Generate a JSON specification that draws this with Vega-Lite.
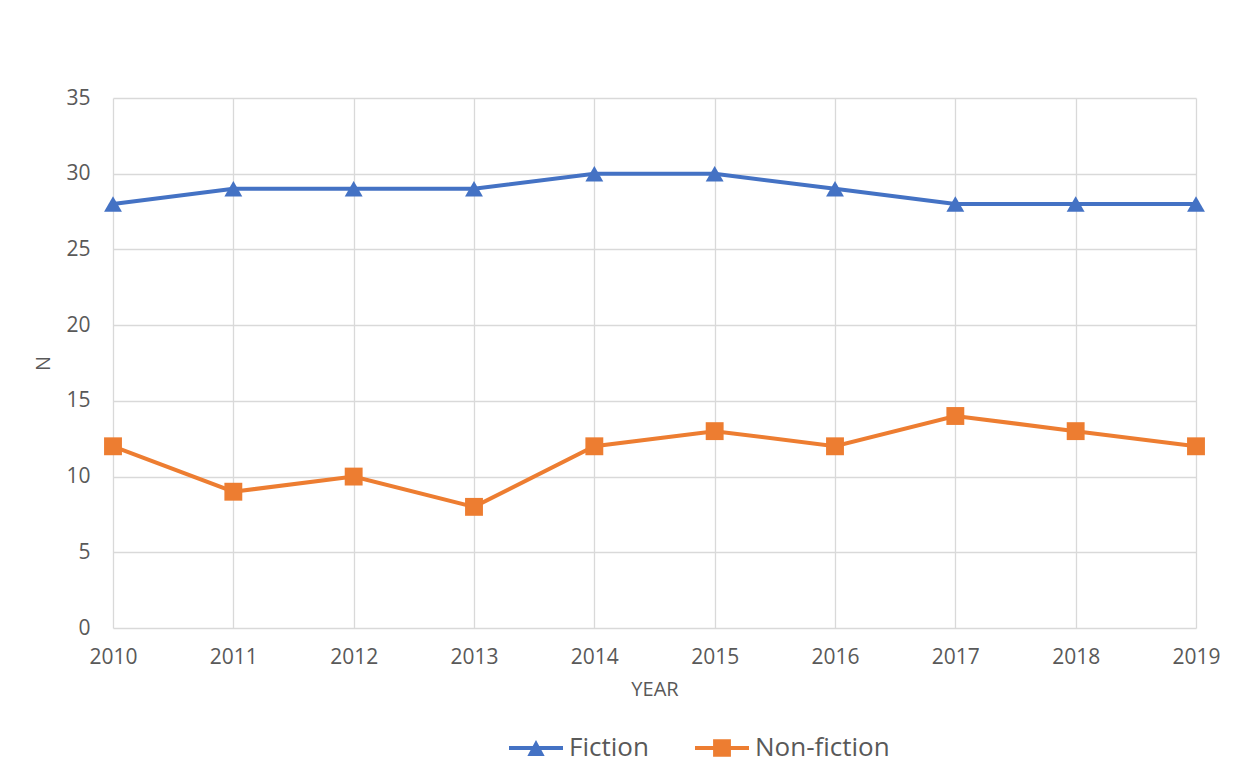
{
  "$schema": "https://vega.github.io/schema/vega-lite/v6.json",
  "width": 1083,
  "height": 530,
  "autosize": {"type": "none"},
  "padding": {"left": 113, "top": 98, "right": 57, "bottom": 150},
  "background": "#ffffff",
  "config": {
    "font": "Open Sans",
    "view": {"stroke": null},
    "axis": {
      "labelFont": "Open Sans",
      "titleFont": "Open Sans",
      "labelColor": "#595959",
      "titleColor": "#595959",
      "labelFontSize": 21,
      "titleFontSize": 20,
      "titleFontWeight": "normal",
      "gridColor": "#d9d9d9",
      "gridWidth": 1.3,
      "domain": false,
      "ticks": false
    }
  },
  "data": {
    "values": [
      {"year": 2010, "series": "Fiction", "n": 28},
      {"year": 2011, "series": "Fiction", "n": 29},
      {"year": 2012, "series": "Fiction", "n": 29},
      {"year": 2013, "series": "Fiction", "n": 29},
      {"year": 2014, "series": "Fiction", "n": 30},
      {"year": 2015, "series": "Fiction", "n": 30},
      {"year": 2016, "series": "Fiction", "n": 29},
      {"year": 2017, "series": "Fiction", "n": 28},
      {"year": 2018, "series": "Fiction", "n": 28},
      {"year": 2019, "series": "Fiction", "n": 28},
      {"year": 2010, "series": "Non-fiction", "n": 12},
      {"year": 2011, "series": "Non-fiction", "n": 9},
      {"year": 2012, "series": "Non-fiction", "n": 10},
      {"year": 2013, "series": "Non-fiction", "n": 8},
      {"year": 2014, "series": "Non-fiction", "n": 12},
      {"year": 2015, "series": "Non-fiction", "n": 13},
      {"year": 2016, "series": "Non-fiction", "n": 12},
      {"year": 2017, "series": "Non-fiction", "n": 14},
      {"year": 2018, "series": "Non-fiction", "n": 13},
      {"year": 2019, "series": "Non-fiction", "n": 12}
    ]
  },
  "encoding": {
    "x": {
      "field": "year",
      "type": "quantitative",
      "scale": {"domain": [2010, 2019], "nice": false, "zero": false},
      "axis": {
        "title": "YEAR",
        "values": [2010, 2011, 2012, 2013, 2014, 2015, 2016, 2017, 2018, 2019],
        "format": "d",
        "labelPadding": 18,
        "titlePadding": 12,
        "labelFlush": false
      }
    },
    "y": {
      "field": "n",
      "type": "quantitative",
      "scale": {"domain": [0, 35], "nice": false},
      "axis": {
        "title": "N",
        "values": [0, 5, 10, 15, 20, 25, 30, 35],
        "labelPadding": 23,
        "titlePadding": 12
      }
    }
  },
  "layer": [
    {
      "mark": {"type": "line", "strokeWidth": 4},
      "encoding": {
        "color": {
          "field": "series",
          "type": "nominal",
          "scale": {"domain": ["Fiction", "Non-fiction"], "range": ["#4472C4", "#ED7D31"]},
          "legend": null
        }
      }
    },
    {
      "mark": {"type": "point", "filled": true, "opacity": 1, "size": 320},
      "encoding": {
        "color": {
          "field": "series",
          "type": "nominal",
          "scale": {"domain": ["Fiction", "Non-fiction"], "range": ["#4472C4", "#ED7D31"]},
          "legend": null
        },
        "shape": {
          "field": "series",
          "type": "nominal",
          "scale": {"domain": ["Fiction", "Non-fiction"], "range": ["triangle-up", "square"]},
          "legend": null
        }
      }
    },
    {
      "mark": {"type": "point", "filled": true, "opacity": 0, "size": 10},
      "encoding": {
        "color": {
          "field": "series",
          "type": "nominal",
          "scale": {"domain": ["Fiction", "Non-fiction"], "range": ["#4472C4", "#ED7D31"]},
          "legend": {
            "title": null,
            "orient": "none",
            "direction": "horizontal",
            "legendX": 396,
            "legendY": 623,
            "padding": 0,
            "symbolSize": 2916,
            "symbolOpacity": 1,
            "symbolStrokeWidth": 0,
            "labelFont": "Open Sans",
            "labelFontSize": 26,
            "labelColor": "#595959",
            "labelOffset": 6,
            "columnPadding": 46,
            "labelLimit": 400
          }
        },
        "shape": {
          "field": "series",
          "type": "nominal",
          "scale": {
            "domain": ["Fiction", "Non-fiction"],
            "range": [
              "M-1,-0.075H1V0.075H-1Z M-0.32,0.3L0,-0.3L0.32,0.3Z",
              "M-1,-0.075H1V0.075H-1Z M-0.33,-0.32H0.33V0.32H-0.33Z"
            ]
          },
          "legend": {
            "title": null,
            "orient": "none",
            "direction": "horizontal",
            "legendX": 396,
            "legendY": 623,
            "padding": 0,
            "symbolSize": 2916,
            "symbolOpacity": 1,
            "symbolStrokeWidth": 0,
            "labelFont": "Open Sans",
            "labelFontSize": 26,
            "labelColor": "#595959",
            "labelOffset": 6,
            "columnPadding": 46,
            "labelLimit": 400
          }
        }
      }
    }
  ],
  "resolve": {"scale": {"shape": "independent", "color": "independent"}}
}
